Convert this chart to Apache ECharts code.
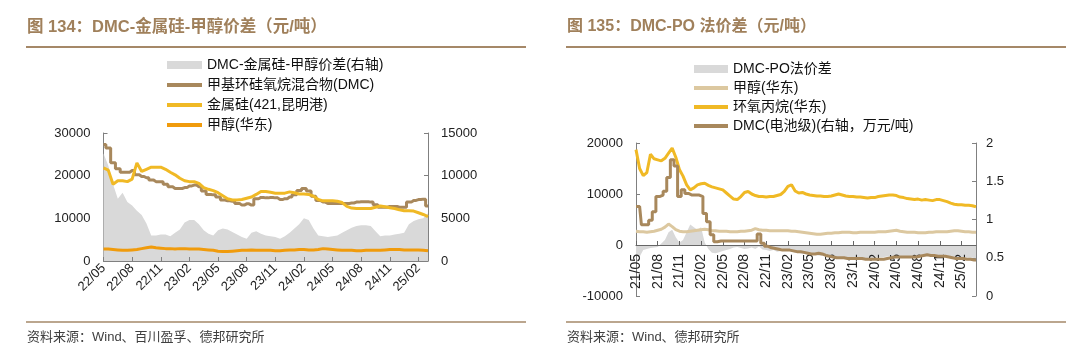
<!DOCTYPE html>
<html>
<head>
<meta charset="utf-8">
<script src="https://cdn.jsdelivr.net/npm/echarts@6/dist/echarts.min.js"></script>
<style>
html,body{margin:0;padding:0;background:#fff;}
#wrap{position:relative;width:1080px;height:358px;}
#cL{position:absolute;left:0;top:0;width:540px;height:358px;}
#cR{position:absolute;left:540px;top:0;width:540px;height:358px;}
</style>
</head>
<body>
<div id="wrap"><div id="cL"></div><div id="cR"></div></div>
<script>
// ---------- LEFT CHART DATA (half-month points) ----------
const monthsL = ['22/05','22/06','22/07','22/08','22/09','22/10','22/11','22/12','23/01','23/02','23/03','23/04','23/05','23/06','23/07','23/08','23/09','23/10','23/11','23/12','24/01','24/02','24/03','24/04','24/05','24/06','24/07','24/08','24/09','24/10','24/11','24/12','25/01','25/02','25/03'];
const dmcL = [27300,26500,23000,21600,20800,20800,21200,20200,19800,19500,19000,18600,18600,18000,17400,17000,17000,17200,17600,17800,17400,16400,15600,15500,15000,14300,14100,14000,13500,13100,13400,13100,14600,14900,14800,14900,14800,14400,14600,15000,15500,16500,17000,16400,15200,14200,13800,13500,13500,13500,13500,13500,13600,13800,13900,13900,13800,13200,12600,12600,12800,12800,12600,12600,13800,14200,14400,14500,12900];
const siL = [21800,21300,18000,18800,18800,18600,19200,23000,21000,21500,22000,22000,22000,21500,20800,20200,19400,18800,18600,18600,18200,17200,16800,16500,16000,15300,14600,14300,14300,14400,14700,15000,15600,16300,16300,16100,15900,15900,15900,16200,16000,15700,15700,15600,15200,14400,14100,14100,14100,14000,13700,12800,12400,12300,12300,12300,12300,12600,12900,12700,12500,12300,12000,11800,11800,11700,11300,10900,10400];
const meohL = [2800,2800,2700,2600,2500,2500,2600,2700,2900,3100,3300,3100,3000,2900,2900,2800,2900,2900,2800,2800,2800,2700,2600,2500,2300,2200,2200,2300,2400,2500,2500,2600,2500,2500,2500,2500,2400,2400,2500,2600,2600,2700,2700,2600,2600,2700,2900,2800,2700,2600,2500,2500,2500,2400,2400,2500,2500,2500,2500,2600,2700,2700,2700,2600,2600,2600,2600,2500,2400];
const spreadL = [12600,11200,9000,7300,8000,6900,6500,5900,5400,4400,3000,3000,3100,3100,2900,3300,3700,4500,4800,4800,4300,3600,3200,3000,3600,3800,3700,3400,3100,2800,2600,3300,3500,3200,3000,2900,2800,2600,2900,3300,3800,4300,5000,4800,3800,3000,2900,2800,2900,3000,3300,3600,3900,4100,4200,4200,4100,3500,2900,3000,3000,3100,3200,3300,4300,4700,4900,5000,5600];

// ---------- RIGHT CHART DATA (half-month points) ----------
const monthsR = ['21/05','21/06','21/07','21/08','21/09','21/10','21/11','21/12','22/01','22/02','22/03','22/04','22/05','22/06','22/07','22/08','22/09','22/10','22/11','22/12','23/01','23/02','23/03','23/04','23/05','23/06','23/07','23/08','23/09','23/10','23/11','23/12','24/01','24/02','24/03','24/04','24/05','24/06','24/07','24/08','24/09','24/10','24/11','24/12','25/01','25/02','25/03','25/04'];
const poR = [18700,15000,13600,14200,17800,16900,16700,16500,17000,18000,19000,17200,14800,13500,11800,10800,11200,11800,12000,12100,11700,11400,11200,11000,10800,10200,9600,9000,8900,9500,10300,10500,10000,9700,9500,9500,9400,9500,9500,9700,9900,10500,11500,11800,10600,10200,10300,10000,9800,9700,9600,9600,9500,9500,9600,9800,10000,9800,9600,9500,9500,9400,9400,9300,9200,9300,9300,9500,9600,9700,9800,9800,9700,9400,9300,9100,9000,8900,9000,8800,8900,8800,8700,8900,8900,8700,8500,8200,8000,7900,7900,7800,7800,7700,7500];
const meohR = [2700,2600,2600,2500,2600,2700,2900,3100,3500,4100,3600,3000,2700,2600,2600,2700,2800,2900,3000,3100,3000,2800,2800,2700,2700,2700,2600,2600,2600,2700,2700,2800,2900,3200,3000,2900,2900,2800,2800,2800,2800,2800,2800,2700,2700,2600,2500,2400,2300,2200,2100,2100,2200,2300,2300,2400,2400,2500,2500,2500,2400,2400,2500,2500,2500,2500,2500,2600,2600,2600,2700,2800,2900,2700,2600,2500,2500,2500,2400,2400,2400,2500,2500,2600,2600,2600,2600,2700,2800,2800,2700,2600,2600,2500,2500];
const dmcR = [1.17,1.17,0.93,0.93,0.99,1.10,1.30,1.32,1.37,1.55,1.78,1.70,1.30,1.39,1.34,1.32,1.32,1.32,1.30,1.08,0.97,0.80,0.71,0.72,0.72,0.72,0.72,0.72,0.72,0.72,0.72,0.72,0.72,0.72,0.81,0.69,0.65,0.63,0.62,0.61,0.60,0.60,0.60,0.59,0.58,0.58,0.57,0.56,0.55,0.55,0.56,0.55,0.53,0.52,0.51,0.50,0.50,0.50,0.49,0.49,0.49,0.49,0.49,0.48,0.48,0.48,0.48,0.48,0.48,0.49,0.50,0.51,0.51,0.51,0.51,0.51,0.51,0.51,0.52,0.53,0.54,0.53,0.53,0.52,0.52,0.52,0.51,0.50,0.49,0.49,0.49,0.48,0.48,0.47,0.47];
const spreadR = [-2000,-2300,-1000,-800,-600,-500,-400,300,1000,2500,3000,1500,500,1000,2500,4000,3500,3000,3500,500,-800,-1500,-1600,-1400,-1200,-1000,-800,-500,-400,-600,-800,-700,-500,-800,-300,-900,-1000,-1200,-1000,-1300,-1200,-1100,-1000,-1300,-1500,-1500,-1800,-1700,-1800,-1900,-2000,-2100,-2100,-2200,-2200,-2300,-2300,-2400,-2400,-2500,-2600,-2600,-2500,-2600,-2600,-2600,-2500,-2400,-2400,-2300,-2200,-2200,-2100,-2200,-2300,-2300,-2300,-2300,-2200,-2000,-1900,-1800,-1800,-1900,-2000,-2100,-2200,-2300,-2300,-2300,-2400,-2400,-2500,-2500,-2600];

// axis ranges [min, max, interval]
const yLeftL = [0,30000,10000], yRightL = [0,15000,5000];
const yLeftR = [-10000,20000,10000], yRightR = [0,2,0.5];

function halfMonths(months, n){
  const out=[];
  months.forEach(m=>{out.push(m+'-1');out.push(m+'-2');});
  return out.slice(0,n);
}
const catL = halfMonths(monthsL, dmcL.length);
const catR = halfMonths(monthsR, poR.length);

const FONT = '"Liberation Sans", Arial, "Noto Sans CJK SC", sans-serif';
const AX = '#808080';
const qtr = (i)=> i % 6 === 0;
const plain = v => String(v);

function frame(title, source, titleSize){
  return {
    title: [
      {text: title, left: 27, top: 19, padding: 0, textStyle:{fontSize:titleSize, fontWeight:'bold', color:'#a0805b', fontFamily: FONT}},
      {text: source, left: 27, top: 331, padding: 0, textStyle:{fontSize:13, fontWeight:'normal', color:'#404040', fontFamily: FONT}}
    ],
    graphic: [
      {type:'line', shape:{x1:26, y1:47, x2:526, y2:47}, style:{stroke:'#a58868', lineWidth:2}},
      {type:'line', shape:{x1:26, y1:322, x2:526, y2:322}, style:{stroke:'#a58868', lineWidth:1.5}}
    ]
  };
}
function legends(left, top, rowGap, areaName, lineNames, w){
  const ts = {fontSize:14, color:'#111', lineHeight:14, fontFamily:FONT};
  return [
    {left:left, top:top, padding:0, orient:'vertical', itemWidth:w, itemHeight:8, selectedMode:false,
     textStyle:ts, data:[{name:areaName, icon:'rect'}]},
    {left:left, top:top+14+rowGap, padding:0, orient:'vertical', itemWidth:w, itemHeight:4, itemGap:rowGap, selectedMode:false,
     textStyle:ts, data:lineNames.map(n=>({name:n, icon:'rect'}))}
  ];
}

// ---------- LEFT ----------
const cL = echarts.init(document.getElementById('cL'), null, {renderer:'canvas'});
const fL = frame('图 134：DMC-金属硅-甲醇价差（元/吨）', '资料来源：Wind、百川盈孚、德邦研究所', 16.5);
cL.setOption({
  animation:false,
  textStyle:{fontFamily:FONT},
  title: fL.title, graphic: fL.graphic,
  legend: legends(167, 58, 6, 'DMC-金属硅-甲醇价差(右轴)', ['甲基环硅氧烷混合物(DMC)', '金属硅(421,昆明港)', '甲醇(华东)'], 35),
  grid:{left:103.5, top:133, width:324.5, height:128, containLabel:false},
  xAxis:{type:'category', data:catL, boundaryGap:false, z:3,
    axisLine:{lineStyle:{color:AX}},
    axisTick:{inside:true, length:4, interval:qtr, lineStyle:{color:AX}},
    axisLabel:{interval:qtr, rotate:45, fontSize:13, color:'#222', margin:5, formatter:v=>v.slice(0,5)}},
  yAxis:[
    {type:'value', min:yLeftL[0], max:yLeftL[1], interval:yLeftL[2], position:'left',
     axisLine:{show:true, lineStyle:{color:AX}}, axisTick:{show:true, inside:true, length:4, lineStyle:{color:AX}},
     splitLine:{show:false}, axisLabel:{fontSize:13, color:'#222', margin:13, formatter:plain}},
    {type:'value', min:yRightL[0], max:yRightL[1], interval:yRightL[2], position:'right',
     axisLine:{show:true, lineStyle:{color:AX}}, axisTick:{show:true, inside:true, length:4, lineStyle:{color:AX}},
     splitLine:{show:false}, axisLabel:{fontSize:13, color:'#222', margin:13, formatter:plain}}
  ],
  series:[
    {name:'DMC-金属硅-甲醇价差(右轴)', type:'line', yAxisIndex:1, data:spreadL, symbol:'none', showSymbol:false, z:2,
     itemStyle:{color:'#d9d9d9'}, lineStyle:{width:0, color:'#d9d9d9'}, areaStyle:{color:'#d9d9d9', opacity:1}},
    {name:'甲基环硅氧烷混合物(DMC)', type:'line', data:dmcL, step:'middle', symbol:'none', showSymbol:false, z:4,
     itemStyle:{color:'#a8885c'}, lineStyle:{width:3, color:'#a8885c'}},
    {name:'金属硅(421,昆明港)', type:'line', data:siL, symbol:'none', showSymbol:false, z:4,
     itemStyle:{color:'#f0b925'}, lineStyle:{width:3, color:'#f0b925'}},
    {name:'甲醇(华东)', type:'line', data:meohL, symbol:'none', showSymbol:false, z:4,
     itemStyle:{color:'#f09b0c'}, lineStyle:{width:3, color:'#f09b0c'}}
  ]
});

// ---------- RIGHT ----------
const gridR = {left:96, top:143, width:340, height:153};
// distance from the value-axis zero line to the grid bottom
const zeroOffsetR = gridR.height * (0 - yLeftR[0]) / (yLeftR[1] - yLeftR[0]);
const cR = echarts.init(document.getElementById('cR'), null, {renderer:'canvas'});
const fR = frame('图 135：DMC-PO 法价差（元/吨）', '资料来源：Wind、德邦研究所', 16);
cR.setOption({
  animation:false,
  textStyle:{fontFamily:FONT},
  title: fR.title, graphic: fR.graphic,
  legend: legends(154, 62, 5, 'DMC-PO法价差', ['甲醇(华东)', '环氧丙烷(华东)', 'DMC(电池级)(右轴，万元/吨)'], 34),
  grid:{left:gridR.left, top:gridR.top, width:gridR.width, height:gridR.height, containLabel:false},
  xAxis:{type:'category', data:catR, boundaryGap:false, position:'bottom', offset:-zeroOffsetR, z:3,
    axisLine:{onZero:false, lineStyle:{color:'#666'}},
    axisTick:{inside:true, length:4, interval:qtr, lineStyle:{color:'#666'}},
    axisLabel:{interval:qtr, rotate:90, fontSize:14, color:'#222', margin:9, formatter:v=>v.slice(0,5)}},
  yAxis:[
    {type:'value', min:yLeftR[0], max:yLeftR[1], interval:yLeftR[2], position:'left',
     axisLine:{show:true, onZero:false, lineStyle:{color:AX}}, axisTick:{show:true, inside:true, length:4, lineStyle:{color:AX}},
     splitLine:{show:false}, axisLabel:{fontSize:13, color:'#222', margin:13, formatter:plain}},
    {type:'value', min:yRightR[0], max:yRightR[1], interval:yRightR[2], position:'right',
     axisLine:{show:true, onZero:false, lineStyle:{color:AX}}, axisTick:{show:true, inside:true, length:4, lineStyle:{color:AX}},
     splitLine:{show:false}, axisLabel:{fontSize:13, color:'#222', margin:10, formatter:plain}}
  ],
  series:[
    {name:'DMC-PO法价差', type:'line', data:spreadR, symbol:'none', showSymbol:false, z:2,
     itemStyle:{color:'#d9d9d9'}, lineStyle:{width:0, color:'#d9d9d9'}, areaStyle:{color:'#d9d9d9', opacity:1}},
    {name:'甲醇(华东)', type:'line', data:meohR, symbol:'none', showSymbol:false, z:4,
     itemStyle:{color:'#dcc8a0'}, lineStyle:{width:3, color:'#dcc8a0'}},
    {name:'环氧丙烷(华东)', type:'line', data:poR, symbol:'none', showSymbol:false, z:4,
     itemStyle:{color:'#f0b925'}, lineStyle:{width:3, color:'#f0b925'}},
    {name:'DMC(电池级)(右轴，万元/吨)', type:'line', yAxisIndex:1, data:dmcR, step:'middle', symbol:'none', showSymbol:false, z:4,
     itemStyle:{color:'#a8885c'}, lineStyle:{width:3, color:'#a8885c'}}
  ]
});
</script>
</body>
</html>
